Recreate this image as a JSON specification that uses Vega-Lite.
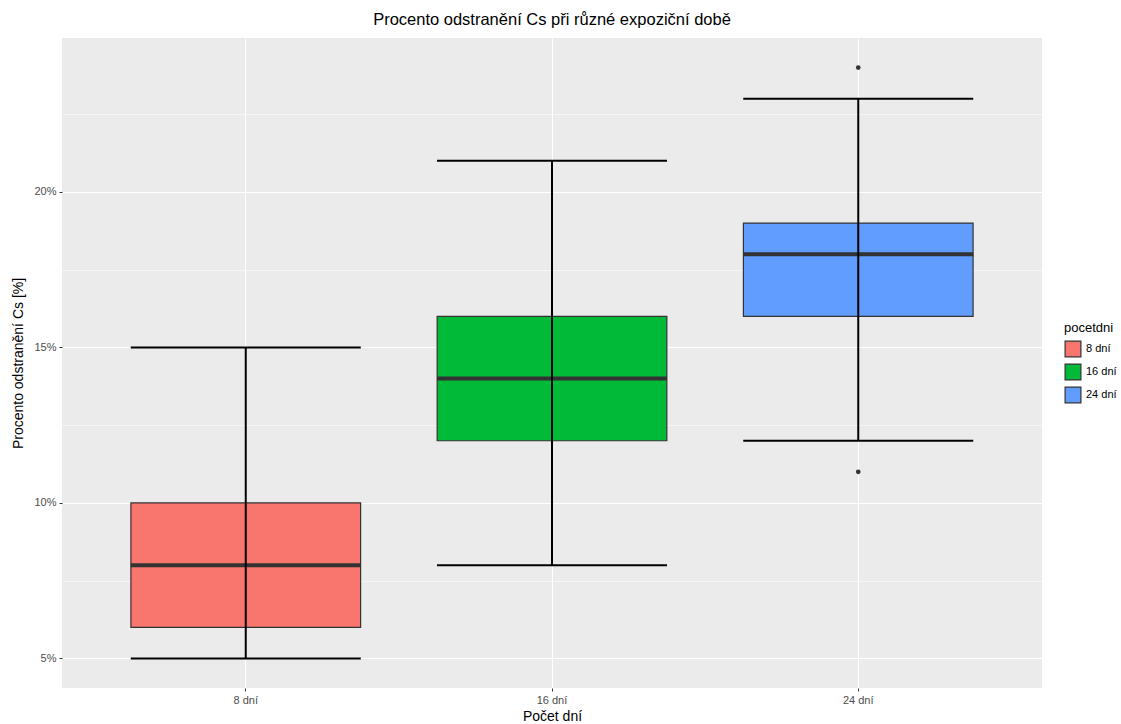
{
  "$schema": "https://vega.github.io/schema/vega-lite/v6.json",
  "width": 980,
  "height": 650,
  "autosize": "none",
  "padding": {"left": 62, "top": 38, "right": 79, "bottom": 36},
  "background": "white",
  "title": {"text": "Procento odstranění Cs při různé expoziční době", "fontSize": 16.5, "font": "Liberation Sans", "fontWeight": "normal", "color": "black", "anchor": "middle", "offset": 10},
  "config": {"view": {"fill": "#EBEBEB", "stroke": null}, "font": "Liberation Sans"},
  "datasets": {
    "stats": [
      {"pocetdni": "8 dní", "lower": 5, "q1": 6, "median": 8, "q3": 10, "upper": 15},
      {"pocetdni": "16 dní", "lower": 8, "q1": 12, "median": 14, "q3": 16, "upper": 21},
      {"pocetdni": "24 dní", "lower": 12, "q1": 16, "median": 18, "q3": 19, "upper": 23}
    ],
    "outliers": [
      {"pocetdni": "24 dní", "value": 24},
      {"pocetdni": "24 dní", "value": 11}
    ]
  },
  "encoding": {
    "x": {
      "field": "pocetdni", "type": "nominal", "sort": ["8 dní", "16 dní", "24 dní"],
      "scale": {"paddingInner": 0.25, "paddingOuter": 0.225},
      "axis": {"title": "Počet dní", "titleFontSize": 14, "titleFontWeight": "normal", "titleColor": "black", "titlePadding": 4,
        "labelColor": "#4D4D4D", "labelFontSize": 11, "labelAngle": 0, "labelPadding": 3,
        "tickColor": "#333333", "tickSize": 3, "domain": false, "grid": true, "gridColor": "white", "gridWidth": 1.1, "bandPosition": 0.5}
    }
  },
  "layer": [
    {
      "data": {"name": "stats"},
      "mark": {"type": "bar", "stroke": "#333333", "strokeWidth": 1.2},
      "encoding": {
        "y": {"field": "q1", "type": "quantitative",
          "scale": {"domain": [4.05, 24.95], "nice": false, "zero": false},
          "axis": {"title": "Procento odstranění Cs [%]", "titleFontSize": 14, "titleFontWeight": "normal", "titleColor": "black", "titlePadding": 8,
            "values": [5, 7.5, 10, 12.5, 15, 17.5, 20, 22.5],
            "labelExpr": "datum.value % 5 === 0 ? datum.value + '%' : ''",
            "labelColor": "#4D4D4D", "labelFontSize": 11, "labelPadding": 3,
            "tickColor": "#333333", "tickSize": 3,
            "tickOpacity": {"condition": {"test": "datum.value % 5 !== 0", "value": 0}, "value": 1},
            "domain": false, "grid": true, "gridColor": "white",
            "gridWidth": {"condition": {"test": "datum.value % 5 !== 0", "value": 0.55}, "value": 1.1}}},
        "y2": {"field": "q3"},
        "color": {"field": "pocetdni", "type": "nominal",
          "scale": {"domain": ["8 dní", "16 dní", "24 dní"], "range": ["#F8766D", "#00BA38", "#619CFF"]},
          "legend": {"title": "pocetdni", "orient": "none", "legendX": 1002, "legendY": 284,
            "titleFontSize": 13, "titleFontWeight": "normal", "titleColor": "black", "labelFontSize": 11, "labelColor": "black",
            "symbolType": "square", "symbolSize": 250, "symbolStrokeColor": "#333333", "symbolStrokeWidth": 1.2, "rowPadding": 1, "symbolOpacity": 1}}
      }
    },
    {
      "data": {"name": "stats"},
      "mark": {"type": "tick", "size": 230, "thickness": 4, "color": "#333333", "opacity": 1},
      "encoding": {"y": {"field": "median", "type": "quantitative"}}
    },
    {
      "data": {"name": "stats"},
      "mark": {"type": "rule", "color": "black", "strokeWidth": 2},
      "encoding": {"y": {"field": "lower", "type": "quantitative"}, "y2": {"field": "upper"}}
    },
    {
      "data": {"name": "stats"},
      "mark": {"type": "tick", "size": 230, "thickness": 2, "color": "black", "opacity": 1},
      "encoding": {"y": {"field": "lower", "type": "quantitative"}}
    },
    {
      "data": {"name": "stats"},
      "mark": {"type": "tick", "size": 230, "thickness": 2, "color": "black", "opacity": 1},
      "encoding": {"y": {"field": "upper", "type": "quantitative"}}
    },
    {
      "data": {"name": "outliers"},
      "mark": {"type": "circle", "size": 22, "color": "#333333", "opacity": 1},
      "encoding": {"y": {"field": "value", "type": "quantitative"}}
    }
  ]
}
